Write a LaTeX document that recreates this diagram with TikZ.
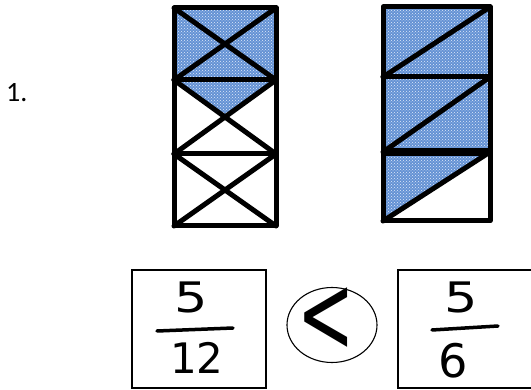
\documentclass[tikz,border=0pt]{standalone}
\usepackage{fontspec}
\setmainfont{Carlito}
\newfontfamily\handfont{DejaVu Sans}
\usetikzlibrary{patterns,shapes.geometric}
\definecolor{shadeblue}{RGB}{100,146,212}
\definecolor{dotblue}{RGB}{225,235,250}
\tikzset{
  thickline/.style={line width=5pt, line join=round, line cap=round},
  shaded/.style={fill=shadeblue},
  dotted overlay/.style={pattern=crosshatch dots, pattern color=dotblue},
  thinbox/.style={draw, line width=1.3pt},
  digit/.style={font=\handfont\fontsize{42}{42}\selectfont, inner sep=0pt},
  fracbar/.style={line width=3.5pt, line cap=round},
}
\begin{document}
\begin{tikzpicture}[x=1pt,y=-1pt]
\useasboundingbox (0,0) rectangle (531,390);
% number
\node[font=\fontsize{28}{28}\selectfont, anchor=base west, inner sep=0pt] (num) at (6,102) {1.};
% ---- left bar (5/12)
\fill[shaded] (174,8) rectangle (276,80);
\fill[shaded] (174,80) -- (276,80) -- (225,117) -- cycle;
\fill[dotted overlay] (174,8) rectangle (276,80);
\fill[dotted overlay] (174,80) -- (276,80) -- (225,117) -- cycle;
\draw[thickline] (174,8) rectangle (276,226);
\draw[thickline] (174,80) -- (276,80) (174,154) -- (276,154);
\draw[thickline] (174,8) -- (276,80) (276,8) -- (174,80);
\draw[thickline] (174,80) -- (276,154) (276,80) -- (174,154);
\draw[thickline] (174,154) -- (276,226) (276,154) -- (174,226);
% ---- right bar (5/6)
\fill[shaded] (383,7) rectangle (490,152);
\fill[shaded] (383,152) -- (490,152) -- (383,221) -- cycle;
\fill[dotted overlay] (383,7) rectangle (490,152);
\fill[dotted overlay] (383,152) -- (490,152) -- (383,221) -- cycle;
\draw[thickline] (383,7) rectangle (490,221);
\draw[thickline] (383,77) -- (490,77);
\draw[line width=8pt] (383,152) -- (490,152);
\draw[thickline] (383,77) -- (490,7);
\draw[thickline] (383,152) -- (490,77);
\draw[thickline] (383,221) -- (490,152);
% ---- comparison
\draw[thinbox] (132,270) rectangle (266,388);
\draw[thinbox] (398,270) rectangle (533,388);
\node[draw, line width=1.1pt, ellipse, inner sep=0pt, minimum width=90pt, minimum height=75pt] (cmp) at (332,325) {};
\node[font=\handfont\fontsize{36}{36}\selectfont, inner sep=0pt] (lt) at (326,320) {\scalebox{1.9}[3.1]{<}};
\node[digit] (n1) at (191,297) {\scalebox{1.25}[1]{5}};
\draw[fracbar] (157,331) -- (233,328);
\node[digit] (d1) at (197,358) {12};
\node[digit] (n2) at (461,297) {\scalebox{1.25}[1]{5}};
\draw[fracbar] (432,330) -- (498,326);
\node[digit] (d2) at (453,361) {\scalebox{1.1}[1.1]{6}};
\end{tikzpicture}
\end{document}
